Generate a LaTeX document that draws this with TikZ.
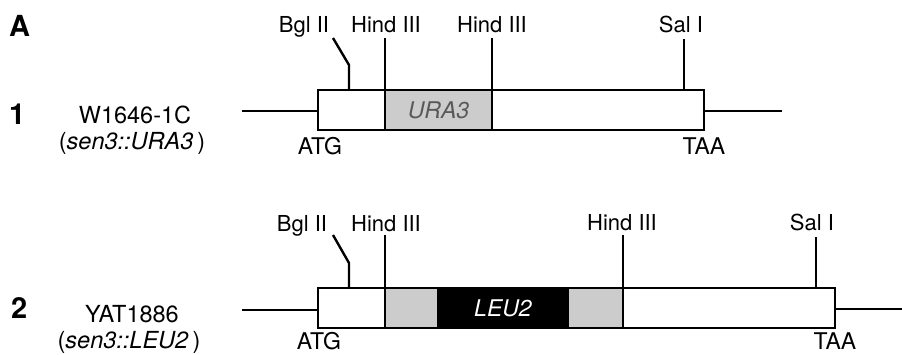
\documentclass[tikz,border=0pt]{standalone}
\usepackage{fontspec}
\setmainfont{TeX Gyre Heros}
\usetikzlibrary{positioning,calc}
\definecolor{insgray}{gray}{0.80}
\definecolor{instext}{gray}{0.35}
\tikzset{
  gene/.style={draw=black, line width=1.8pt, fill=white},
  insert/.style={draw=black, line width=1.8pt, fill=insgray},
  marker/.style={draw=black, line width=1.8pt, fill=black},
  flank/.style={line width=2pt},
  site/.style={line width=2.4pt},
  sitelbl/.style={font=\fontsize{22}{24}\selectfont, anchor=base, inner sep=0pt},
  codon/.style={font=\fontsize{23}{25}\selectfont, anchor=base, inner sep=0pt},
  strain/.style={font=\fontsize{23.5}{26}\selectfont, anchor=base, inner sep=0pt},
  rowlbl/.style={font=\fontsize{29}{31}\selectfont\bfseries, anchor=base west, inner sep=0pt},
}

\begin{document}
\begin{tikzpicture}[x=1pt, y=-1pt]
  \useasboundingbox (0,0) rectangle (902,354);

  \node[rowlbl] (panel) at (9,36) {A};

  % ============ row 1: sen3::URA3 ============
  \node[rowlbl] (n1) at (9,124) {1};
  \node[strain] (st1) at (135,123) {W1646-1C};
  \node[strain] (gt1) at (132,149) {(\textit{sen3::URA3}\,)};

  \coordinate (l1a) at (242,111);
  \coordinate (r1b) at (782,111);
  \draw[flank] (l1a) -- (318,111);
  \draw[flank] (704,111) -- (r1b);
  \draw[gene] (318,90) rectangle (704,130);
  \draw[insert] (385,90) rectangle (492,130);
  \node[font=\fontsize{23}{25}\selectfont\itshape, text=instext] (ura) at (438.5,110) {URA3};

  % restriction sites
  \draw[site] (349,90) -- (349,65) -- (333,38);
  \draw[site] (385,130) -- (385,38);
  \draw[site] (492,130) -- (492,38);
  \draw[site] (684,90) -- (684,39);
  \node[sitelbl] (bgl1) at (304,32) {Bgl II};
  \node[sitelbl] (hin1a) at (386,32) {Hind III};
  \node[sitelbl] (hin1b) at (492,32) {Hind III};
  \node[sitelbl] (sal1) at (681,32) {Sal I};

  \node[codon] (atg1) at (320,154) {ATG};
  \node[codon] (taa1) at (704,154) {TAA};

  % ============ row 2: sen3::LEU2 ============
  \node[rowlbl] (n2) at (11,318) {2};
  \node[strain] (st2) at (132,322) {YAT1886};
  \node[strain] (gt2) at (129,348) {(\textit{sen3::LEU2}\,)};

  \coordinate (l2a) at (242,310);
  \coordinate (r2b) at (902,309);
  \draw[flank] (l2a) -- (318,310);
  \draw[flank] (835,309) -- (r2b);
  \draw[gene] (318,288) rectangle (835,328);
  \draw[insert] (385,288) rectangle (623,328);
  \draw[marker] (438,288) rectangle (568,328);
  \node[font=\fontsize{23}{25}\selectfont\itshape, text=white] (leu) at (503,308) {LEU2};

  % restriction sites
  \draw[site] (349,288) -- (349,263) -- (333,235);
  \draw[site] (385,328) -- (385,235);
  \draw[site] (623,328) -- (623,235);
  \draw[site] (816,288) -- (816,237);
  \node[sitelbl] (bgl2) at (302,231) {Bgl II};
  \node[sitelbl] (hin2a) at (386,231) {Hind III};
  \node[sitelbl] (hin2b) at (622,230) {Hind III};
  \node[sitelbl] (sal2) at (812,230) {Sal I};

  \node[codon] (atg2) at (319,349) {ATG};
  \node[codon] (taa2) at (835,349) {TAA};

\end{tikzpicture}
\end{document}
